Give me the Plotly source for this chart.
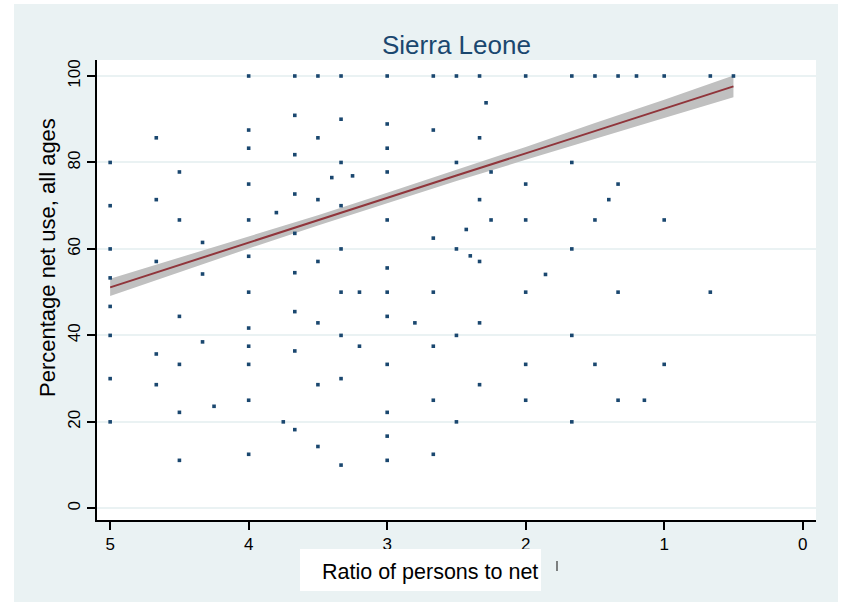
import plotly.graph_objects as go

# ---- data ----
pts_x = (
    [5.0] * 8 + [4.667] * 5 + [4.5] * 6 + [4.333] * 3 + [4.25] + [4.0] * 12 +
    [3.8] + [3.75] + [3.667] * 9 + [3.5] * 7 + [3.4] + [3.333] * 9 + [3.25] +
    [3.2] * 2 + [3.0] * 12 + [2.8] + [2.667] * 7 + [2.5] * 5 + [2.429] + [2.4] +
    [2.333] * 6 + [2.286] + [2.25] * 2 + [2.0] * 6 + [1.857] + [1.667] * 5 +
    [1.5] * 3 + [1.4] + [1.333] * 4 + [1.2] + [1.143] + [1.0] * 3 + [0.667] * 2 + [0.5]
)
pts_y = (
    [80, 70, 60, 53.3, 46.7, 40, 30, 20] +
    [85.7, 71.4, 57.1, 35.7, 28.6] +
    [77.8, 66.7, 44.4, 33.3, 22.2, 11.1] +
    [61.5, 54.2, 38.5] +
    [23.6] +
    [100, 87.5, 83.3, 75, 66.7, 58.3, 50, 41.7, 37.5, 33.3, 25, 12.5] +
    [68.4] +
    [20] +
    [100, 90.9, 81.8, 72.7, 63.6, 54.5, 45.5, 36.4, 18.2] +
    [100, 85.7, 71.4, 57.1, 42.9, 28.6, 14.3] +
    [76.5] +
    [100, 90, 80, 70, 60, 50, 40, 30, 10] +
    [76.9] +
    [50, 37.5] +
    [100, 88.9, 83.3, 77.8, 66.7, 55.6, 50, 44.4, 33.3, 22.2, 16.7, 11.1] +
    [42.9] +
    [100, 87.5, 62.5, 50, 37.5, 25, 12.5] +
    [100, 80, 60, 40, 20] +
    [64.5] +
    [58.4] +
    [100, 85.7, 71.4, 57.1, 42.9, 28.6] +
    [93.8] +
    [77.8, 66.7] +
    [100, 75, 66.7, 50, 33.3, 25] +
    [54.1] +
    [100, 80, 60, 40, 20] +
    [100, 66.7, 33.3] +
    [71.4] +
    [100, 75, 50, 25] +
    [100] +
    [25] +
    [100, 66.7, 33.3] +
    [100, 50] +
    [100]
)

fit_x = [5.0, 4.5, 4.0, 3.5, 3.0, 2.5, 2.0, 1.5, 1.0, 0.5]
fit_y = [51.1, 56.3, 61.5, 66.6, 71.8, 77.0, 82.1, 87.3, 92.4, 97.6]
ci_lo = [49.1, 54.6, 60.1, 65.4, 70.6, 75.7, 80.6, 85.5, 90.3, 95.1]
ci_hi = [53.1, 58.0, 62.9, 67.8, 73.0, 78.3, 83.6, 89.1, 94.5, 100.1]

x_ticks = [0, 1, 2, 3, 4, 5]
y_ticks = [0, 20, 40, 60, 80, 100]

title_text = "Sierra Leone"
y_title = "Percentage net use, all ages"
x_title = "Ratio of persons to net"

# ---- layout geometry (pixels) ----
W, H = 842, 602
L, R, T, B = 97, 816, 60, 520
pw, ph = R - L, B - T


def px(x):
    return (x - L) / pw


def py(y):
    return (B - y) / ph


FONT = "Liberation Sans, Arial, Helvetica, sans-serif"
NAVY = "#1a476f"
BG = "#eaf2f3"

fig = go.Figure()

fig.add_trace(go.Scatter(x=fit_x, y=ci_lo, mode="lines", line=dict(width=0, color="#c0c0c0"),
                         showlegend=False, hoverinfo="skip"))
fig.add_trace(go.Scatter(x=fit_x, y=ci_hi, mode="lines", line=dict(width=0, color="#c0c0c0"),
                         fill="tonexty", fillcolor="#c0c0c0", showlegend=False, hoverinfo="skip"))
fig.add_trace(go.Scatter(x=pts_x, y=pts_y, mode="markers",
                         marker=dict(symbol="square", size=3.6, color=NAVY, line=dict(width=0)),
                         showlegend=False))
fig.add_trace(go.Scatter(x=fit_x, y=fit_y, mode="lines", line=dict(width=2, color="#90353b"),
                         showlegend=False))

shapes = [
    dict(type="rect", xref="paper", yref="paper", x0=px(14), x1=px(838), y0=py(602), y1=py(4),
         fillcolor=BG, line=dict(width=0), layer="below"),
    dict(type="rect", xref="paper", yref="paper", x0=0, x1=1, y0=0, y1=1,
         fillcolor="white", line=dict(width=0), layer="below"),
    dict(type="rect", xref="paper", yref="paper", x0=px(300), x1=px(541), y0=py(591), y1=py(549),
         fillcolor="white", line=dict(width=0), layer="above"),
    dict(type="line", xref="paper", yref="paper", x0=px(557), x1=px(557), y0=py(571), y1=py(561),
         line=dict(width=1.2, color="#333333"), layer="above"),
]

annotations = [
    dict(text=title_text, xref="paper", yref="paper", x=0.5, y=py(45), showarrow=False,
         font=dict(family=FONT, size=26, color=NAVY), xanchor="center", yanchor="middle"),
    dict(text=y_title, xref="paper", yref="paper", x=px(47), y=py(258), showarrow=False, textangle=-90,
         font=dict(family=FONT, size=22, color="black"), xanchor="center", yanchor="middle"),
    dict(text=x_title, xref="paper", yref="paper", x=px(430), y=py(572), showarrow=False,
         font=dict(family=FONT, size=21.5, color="black"), xanchor="center", yanchor="middle"),
]

fig.update_layout(
    width=W, height=H,
    margin=dict(l=L, r=W - R, t=T, b=H - B, pad=0),
    paper_bgcolor="white", plot_bgcolor="white",
    shapes=shapes, annotations=annotations,
    font=dict(family=FONT, color="black"),
    xaxis=dict(range=[5.095, -0.096], tickmode="array", tickvals=x_ticks,
               ticks="outside", ticklen=8, tickwidth=2, tickcolor="black",
               showline=True, linecolor="black", linewidth=2, showgrid=False, zeroline=False,
               tickfont=dict(family=FONT, size=17, color="black")),
    yaxis=dict(range=[-2.7, 103.7], tickmode="array", tickvals=y_ticks, tickangle=-90,
               ticks="outside", ticklen=8, tickwidth=2, tickcolor="black",
               showline=True, linecolor="black", linewidth=2,
               showgrid=True, gridcolor=BG, gridwidth=1.5, zeroline=False,
               tickfont=dict(family=FONT, size=17, color="black")),
)

fig.write_html("out.html")
